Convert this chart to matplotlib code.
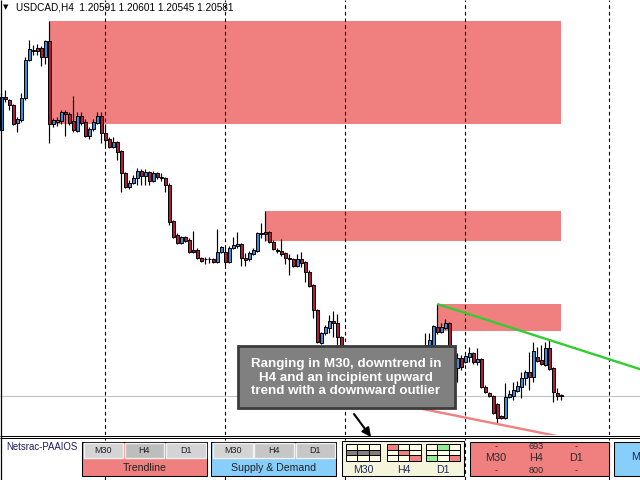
import numpy as np
import matplotlib
matplotlib.use("Agg")
import matplotlib.pyplot as plt
from matplotlib.patches import Rectangle

plt.rcParams['font.family'] = ['Liberation Sans', 'DejaVu Sans']

# ---------------- data ----------------
symbol = "USDCAD,H4"
header_ohlc = ["1.20591", "1.20601", "1.20545", "1.20581"]
base_price = 1.2000  # prices below are in pips above this level

opens = [324, 357, 354, 349, 331, 334, 356, 394, 404, 406,
         406, 397, 413, 330, 332, 333, 342, 340, 333, 323,
         338, 332, 318, 325, 331, 338, 321, 315, 307, 312,
         303, 281, 267, 271, 276, 283, 278, 282, 273, 281,
         277, 276, 269, 233, 219, 211, 217, 214, 204, 204,
         196, 195, 195, 195, 192, 202, 202, 192, 206, 208,
         210, 196, 195, 200, 203, 221, 222, 222, 212, 204,
         203, 201, 196, 195, 188, 195, 192, 182, 169, 144,
         111, 121, 126, 133, 131, 117, 104, 92, 83, 88,
         74, 80, 66, 71, 59, 67, 74, 70, 78, 86,
         82, 92, 98, 94, 102, 99, 104, 102, 108, 127,
         122, 126, 131, 102, 86, 96, 92, 97, 101, 92,
         95, 67, 61, 58, 50, 38, 36, 57, 58, 63,
         67, 76, 82, 77, 97, 94, 89, 106, 86, 61,
         59.1]
highs = [361, 364, 355, 350, 337, 361, 397, 414, 409, 410,
         408, 414, 433, 336, 337, 344, 344, 342, 358, 342,
         342, 335, 327, 335, 342, 342, 330, 317, 317, 313,
         304, 282, 274, 279, 286, 285, 285, 283, 283, 282,
         281, 277, 271, 234, 221, 218, 218, 216, 223, 206,
         197, 197, 197, 196, 225, 208, 207, 208, 217, 222,
         211, 201, 203, 206, 222, 231, 243, 223, 214, 206,
         215, 202, 200, 196, 200, 202, 193, 184, 170, 145,
         122, 129, 139, 143, 140, 118, 106, 96, 94, 90,
         84, 82, 76, 73, 69, 78, 82, 82, 89, 92,
         96, 104, 102, 106, 105, 107, 121, 121, 129, 150,
         131, 135, 132, 106, 101, 99, 99, 107, 102, 106,
         96, 69, 62, 59, 51, 39, 71, 64, 72, 73,
         82, 84, 102, 112, 107, 109, 112, 114, 87, 66,
         60.1]
lows = [323, 352, 344, 329, 322, 332, 354, 393, 399, 399,
        388, 390, 311, 327, 328, 330, 318, 329, 322, 322,
        329, 317, 315, 323, 330, 311, 309, 306, 306, 294,
        262, 266, 265, 270, 269, 269, 269, 269, 272, 275,
        273, 262, 229, 216, 210, 210, 212, 201, 201, 195,
        192, 190, 191, 191, 191, 201, 189, 191, 205, 206,
        188, 188, 193, 199, 202, 216, 213, 211, 204, 201,
        198, 190, 179, 187, 187, 187, 172, 167, 136, 111,
        110, 119, 121, 117, 109, 102, 88, 79, 76, 70,
        68, 62, 60, 55, 55, 62, 64, 66, 74, 76,
        78, 88, 86, 90, 94, 96, 98, 99, 106, 120,
        121, 125, 98, 84, 72, 84, 91, 92, 90, 89,
        66, 61, 57, 40, 30, 35, 35, 56, 54, 62,
        56, 69, 64, 72, 92, 89, 88, 84, 52, 54,
        54.5]
closes = [357, 355, 349, 330, 335, 356, 394, 405, 403, 403,
          397, 413, 330, 334, 334, 342, 340, 331, 324, 338,
          331, 318, 325, 332, 338, 321, 314, 307, 312, 302,
          281, 267, 271, 276, 283, 278, 282, 273, 281, 277,
          276, 269, 232, 217, 211, 217, 213, 202, 202, 196,
          193, 195, 195, 192, 202, 207, 192, 206, 209, 210,
          196, 194, 201, 204, 221, 220, 220, 212, 205, 203,
          200, 196, 195, 188, 195, 191, 182, 168, 144, 112,
          121, 127, 133, 131, 117, 104, 92, 83, 88, 74,
          80, 66, 71, 59, 67, 74, 70, 78, 86, 82,
          92, 98, 94, 102, 99, 104, 109, 114, 128, 122,
          127, 131, 102, 88, 96, 87, 98, 101, 92, 95,
          67, 62, 58, 41, 36, 36, 57, 60, 64, 68,
          76, 82, 77, 103, 93, 90, 106, 85, 62, 58,
          58.1]

# supply zones: (start bar, end bar, top pips, bottom pips)
zone_start = [12, 66, 109]
zone_end = [140, 140, 140]
zone_top = [433, 243, 150]
zone_bottom = [330, 213, 123]

# trendlines: two anchor points (bar, pips)
green_line = [(109, 150), (137, 114)]
red_line = [(93, 55), (124, 30)]

bid_pips = 58.1
separator_bars = [26, 56, 86, 116, 152]

timeframes = ["M30", "H4", "D1"]
trend_cells = {
    "M30": [["n", "n", "n"], ["k", "k", "k"], ["n", "n", "n"]],
    "H4":  [["r", "n", "n"], ["n", "r", "n"], ["n", "n", "r"]],
    "D1":  [["n", "g", "n"], ["n", "n", "n"], ["g", "n", "r"]],
}
pips_top = ["-", "693", "-"]
pips_bottom = ["-", "800", "-"]
annotation = "Ranging in M30, downtrend in\nH4 and an incipient upward\ntrend with a downward outlier"

# ---------------- figure ----------------
def px(p):
    return base_price + np.asarray(p, dtype=float) / 1e4

O, H, L, C = px(opens), px(highs), px(lows), px(closes)
idx = np.arange(len(O))

fig = plt.figure(figsize=(6.4, 4.8), dpi=100)
fig.patch.set_facecolor('white')

ax = fig.add_axes([0, 45 / 480, 1, 435 / 480], zorder=2)
ax.set_xlim(-0.325, 159.675)
ax.set_ylim(base_price + 19 / 1e4, base_price + 454 / 1e4)
ax.axis('off')

ax_panel = fig.add_axes([0, 0, 1, 42 / 480], sharex=ax, zorder=1)
ax_panel.set_ylim(0, 1)
ax_panel.axis('off')

dash = (0, (3.3, 2.7))
for b in separator_bars:
    ax.axvline(b, color='black', lw=0.8, ls=dash, zorder=1)
    ax_panel.axvline(b, color='black', lw=0.8, ls=dash, zorder=1)

# zones
for s, e, t, btm in zip(zone_start, zone_end, zone_top, zone_bottom):
    ax.add_patch(Rectangle((s, px(btm)), e - s, px(t) - px(btm),
                           facecolor='#F08080', edgecolor='none', zorder=0.5))

# bid line
ax.axhline(px(bid_pips), color='#C0C0C0', lw=0.8, zorder=1.5)

# candles
ax.vlines(idx, L, H, color='black', lw=0.85, zorder=2)
bull = C > O
colors = np.where(bull, '#2F8FE0', '#B8173C')
colors = np.where(C == O, 'black', colors)
ax.bar(idx, np.abs(C - O), bottom=np.minimum(O, C), width=0.65,
       color=colors, edgecolor='black', linewidth=0.72, zorder=3)

# trendlines (rays to the right)
def ray(anchors, color):
    (x1, y1), (x2, y2) = anchors
    slope = (y2 - y1) / (x2 - x1)
    xe = 165
    ax.plot([x1, xe], px([y1, y1 + slope * (xe - x1)]), color=color,
            lw=1.7, zorder=4, solid_capstyle='butt')

ray(green_line, '#32CD32')
ray(red_line, '#F08080')

# ---------------- UI overlay (pixel coordinates) ----------------
ui = fig.add_axes([0, 0, 1, 1], zorder=5)
ui.set_xlim(0, 640)
ui.set_ylim(480, 0)
ui.axis('off')
ui.patch.set_alpha(0)

ui.text(5.5, 7.5, '\u25BC', fontsize=5, ha='center', va='center',
        family=['DejaVu Sans'])
ui.text(16, 7.8, symbol + "  " + " ".join(header_ohlc), fontsize=7.2,
        ha='left', va='center', color='black')

ui.vlines(0.5, 0, 480, color='black', lw=0.9)
ui.hlines([435.5, 437.5], 0, 640, color='black', lw=0.72)

def box(x0, y0, x1, y1, fc, ec='black', lw=0.75, z=2):
    ui.add_patch(Rectangle((x0, y0), x1 - x0, y1 - y0, facecolor=fc,
                           edgecolor=ec, lw=lw, zorder=z))

# annotation box
box(237.5, 346, 454.5, 408, '#808080', ec='#3C3C3C', lw=2.0)
ui.text(346, 377.5, annotation, color='white', fontsize=9.6,
        fontweight='bold', ha='center', va='center', linespacing=1.22,
        multialignment='center', zorder=3)

# arrow
ui.annotate('', xy=(371, 437), xytext=(354, 414),
            arrowprops=dict(arrowstyle='-|>', color='black', lw=1.5,
                            mutation_scale=13, shrinkA=0, shrinkB=0),
            zorder=6)

# panel
ui.text(6, 446.5, "Netsrac-PAAIOS", fontsize=6.9, color='#1B1B5E',
        ha='left', va='center')

# box 1: Trendline
box(82, 441.5, 207, 476, '#F08080')
btn1 = [(83.5, 123), (124.5, 164), (166, 205.5)]
for (x0, x1), tf, fc in zip(btn1, timeframes, ['#D4D4D4', '#BDBDBD', '#D4D4D4']):
    box(x0, 442.5, x1, 457.5, fc, ec='#F2F2F2', lw=1.0, z=3)
    ui.text((x0 + x1) / 2, 450.5, tf, fontsize=6.5, ha='center', va='center',
            color='#202020', zorder=4)
ui.text(144.5, 467.8, "Trendline", fontsize=7.6, ha='center', va='center',
        color='#202020')

# box 2: Supply & Demand
box(211, 441.5, 336, 476, '#87CEFA')
btn2 = [(213, 252.5), (254, 293.5), (295.5, 334.5)]
for (x0, x1), tf, fc in zip(btn2, timeframes, ['#D4D4D4', '#C6C6C6', '#C6C6C6']):
    box(x0, 442.5, x1, 457.5, fc, ec='#F2F2F2', lw=1.0, z=3)
    ui.text((x0 + x1) / 2, 450.5, tf, fontsize=6.5, ha='center', va='center',
            color='#202020', zorder=4)
ui.text(273.5, 468.3, "Supply & Demand", fontsize=7.6, ha='center',
        va='center', color='#202020')

# box 3: trend grids
box(341.5, 441, 463.5, 475.5, '#F5F5DC')
cell_col = {'n': '#FFFFE6', 'k': '#7F7F7F', 'r': '#F08080', 'g': '#90EE90'}
grid_x = [346, 386.5, 426]
cw, ch = 34 / 3, 16.5 / 3
for gx, tf in zip(grid_x, timeframes):
    for r, row in enumerate(trend_cells[tf]):
        for c, v in enumerate(row):
            box(gx + c * cw, 444 + r * ch, gx + (c + 1) * cw, 444 + (r + 1) * ch,
                cell_col[v], ec='black', lw=0.72, z=3)
    ui.text(gx + 17, 469.8, tf, fontsize=7.6, ha='center', va='center',
            color='#1F2A5A')

# box 4: pips
box(469.5, 441.5, 608.5, 476, '#F08080')
for xc, t, tf, b in zip([496, 536.5, 576], pips_top, timeframes, pips_bottom):
    ui.text(xc, 446.5, t, fontsize=6.6, ha='center', va='center', color='#2A2A2A')
    ui.text(xc, 458.3, tf, fontsize=7.8, ha='center', va='center', color='#2A2A2A')
    ui.text(xc, 470.5, b, fontsize=6.6, ha='center', va='center', color='#2A2A2A')

# box 5 (partially visible at the right edge, as in the original)
box(613.5, 441.5, 660, 476, '#87CEFA')
ui.text(631, 457.5, "M30", fontsize=7.8, ha='left', va='center',
        color='#1F2A5A', clip_on=True)

fig.savefig('out.png', dpi=100)
